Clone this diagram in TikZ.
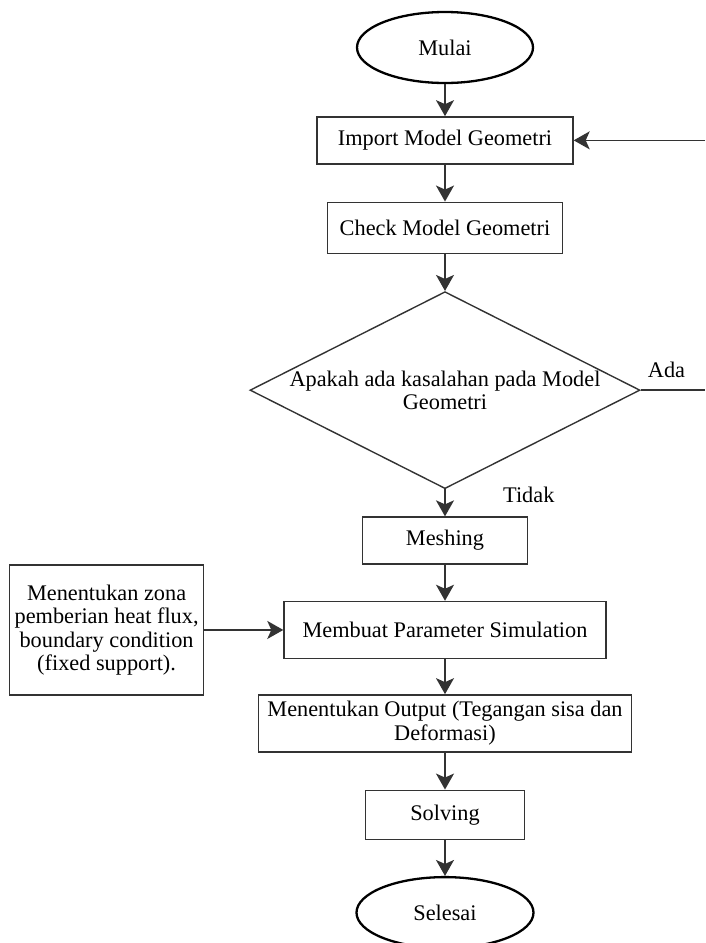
\documentclass[tikz,border=0pt]{standalone}
\usepackage{fontspec}
\setmainfont{Liberation Serif}
\usetikzlibrary{arrows.meta, positioning, shapes.geometric}

\begin{document}
\begin{tikzpicture}[
  every node/.style={font=\fontsize{22.3}{23.5}\selectfont},
  proc/.style={rectangle, draw=black!80, line width=1.4pt, align=center, inner sep=3pt},
  term/.style={ellipse, draw, line width=2.3pt, minimum width=176pt, minimum height=71pt},
  decision/.style={diamond, draw=black!80, line width=1.4pt, inner sep=0pt, minimum width=390pt, minimum height=197pt},
  lbl/.style={inner sep=2pt},
  arrow/.style={-{Stealth[length=16pt, width=18pt, inset=4pt]}, line width=1.6pt, draw=black!80}
]
\useasboundingbox (0,0) rectangle (705pt,-943pt);

% Start
\node[term] (mulai) at (445pt,-47.5pt) {Mulai};

% Geometry
\node[proc, below=32pt of mulai, minimum width=256pt, minimum height=47pt] (import) {Import Model Geometri};
\node[proc, below=37pt of import, minimum width=235pt, minimum height=51pt] (check) {Check Model Geometri};

% Decision
\node[decision, below=37pt of check,
  label={[lbl, align=center]center:{Apakah ada kasalahan pada Model\\Geometri}}] (cek) {};
\node[lbl, above right=10pt and 5pt of cek.east] (ada) {Ada};
\node[lbl, anchor=west] (tidak) at ([shift={(56pt,-6pt)}]cek.south) {Tidak};

% Simulation steps
\node[proc, below=27pt of cek, minimum width=165pt, minimum height=47pt] (meshing) {Meshing};
\node[proc, below=36pt of meshing, minimum width=322pt, minimum height=57pt] (membuat) {Membuat Parameter Simulation};
\node[proc, left=79pt of membuat, minimum width=194pt, minimum height=130pt] (zona) {Menentukan zona\\pemberian heat flux,\\boundary condition\\(fixed support).};
\node[proc, below=35pt of membuat, minimum width=373pt, minimum height=57pt] (output) {Menentukan Output (Tegangan sisa dan\\Deformasi)};
\node[proc, below=37pt of output, minimum width=159pt, minimum height=49pt] (solving) {Solving};

% End
\node[term, below=36pt of solving, minimum width=177pt] (selesai) {Selesai};

% Arrows
\draw[arrow] (mulai) -- (import);
\draw[arrow] (import) -- (check);
\draw[arrow] (check) -- (cek);
\draw[arrow] (cek) -- (meshing);
\draw[arrow] (meshing) -- (membuat);
\draw[arrow] (zona) -- (membuat);
\draw[arrow] (membuat) -- (output);
\draw[arrow] (output) -- (solving);
\draw[arrow] (solving) -- (selesai);

% Back to import
\coordinate (adaend) at (cek.east -| 705pt,0);
\coordinate (balik) at (import.east -| 705pt,0);
\draw[line width=1.6pt, draw=black!80] (cek.east) -- (adaend);
\draw[arrow] (balik) -- (import);

\end{tikzpicture}
\end{document}
